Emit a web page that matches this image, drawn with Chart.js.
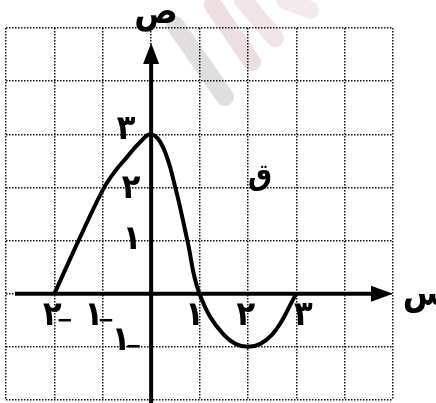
<!DOCTYPE html>
<html>
<head>
<meta charset="utf-8">
<script src="https://cdn.jsdelivr.net/npm/chart.js@4"></script>
<style>
  html, body { margin: 0; padding: 0; background: #fff; }
  #wrap { width: 436px; height: 403px; }
</style>
</head>
<body>
<div id="wrap"><canvas id="graph"></canvas></div>
<script>
// curve q(x) read at a handful of x positions
const xs = [-2, -1.5, -1, -0.75, -0.5, -0.25, 0, 0.25, 0.5, 0.75, 1, 1.5, 2, 2.5, 3];
const ys = [0, 1, 1.95, 2.3, 2.57, 2.83, 3, 2.75, 2, 1, 0, -0.77, -1, -0.77, 0];

// tick labels (Arabic-Indic digits), sign kept apart so it can sit low
const xTickVals = [-2, -1, 1, 2, 3];
const xTickText = ['٢', '١', '١', '٢', '٣'];
const xTickSign = ['−', '−', '', '', ''];
const yTickVals = [-1, 1, 2, 3];
const yTickText = ['١', '١', '٢', '٣'];
const yTickSign = ['−', '', '', ''];

const points = xs.map((x, i) => ({ x: x, y: ys[i] }));
const arabicFont = '"DejaVu Sans Condensed", "DejaVu Sans", sans-serif';

// faint stamp strokes behind the grid
const stampPlugin = {
  id: 'stamp',
  beforeDraw(chart) {
    const ctx = chart.ctx;
    ctx.save();
    ctx.lineCap = 'round';
    ctx.lineWidth = 18;
    const strokes = [
      [175, 25, 225, 97, 'rgba(170,160,162,0.35)'],
      [213, 5, 252, 62, 'rgba(200,160,170,0.35)'],
      [243, 0, 275, 38, 'rgba(205,165,175,0.3)'],
      [285, 0, 310, 10, 'rgba(210,170,180,0.25)']
    ];
    strokes.forEach(s => {
      ctx.strokeStyle = s[4];
      ctx.beginPath();
      ctx.moveTo(s[0], s[1]);
      ctx.lineTo(s[2], s[3]);
      ctx.stroke();
    });
    ctx.restore();
  }
};

function drawTick(ctx, digit, sign, cx, cy) {
  ctx.font = 'bold 34px ' + arabicFont;
  ctx.textAlign = 'center';
  ctx.fillText(digit, cx, cy);
  if (sign) {
    ctx.font = 'bold 22px ' + arabicFont;
    ctx.textAlign = 'left';
    ctx.fillText(sign, cx + 4, cy + 6);
  }
}

// axes with arrows + labels
const axesPlugin = {
  id: 'axesArrows',
  afterDatasetsDraw(chart) {
    const ctx = chart.ctx;
    const sx = chart.scales.x, sy = chart.scales.y;
    const x0 = sx.getPixelForValue(0), y0 = sy.getPixelForValue(0);
    const area = chart.chartArea;
    ctx.save();
    ctx.strokeStyle = '#000';
    ctx.fillStyle = '#000';
    ctx.lineWidth = 4;

    // y axis
    ctx.beginPath();
    ctx.moveTo(x0, chart.height);
    ctx.lineTo(x0, area.top + 30);
    ctx.stroke();
    ctx.beginPath();
    ctx.moveTo(x0, area.top + 15);
    ctx.lineTo(x0 - 8, area.top + 36);
    ctx.lineTo(x0 + 8, area.top + 36);
    ctx.closePath();
    ctx.fill();

    // x axis
    ctx.beginPath();
    ctx.moveTo(area.left + 9, y0);
    ctx.lineTo(area.right - 12, y0);
    ctx.stroke();
    ctx.beginPath();
    ctx.moveTo(area.right, y0);
    ctx.lineTo(area.right - 22, y0 - 8);
    ctx.lineTo(area.right - 22, y0 + 8);
    ctx.closePath();
    ctx.fill();

    ctx.textBaseline = 'middle';
    ctx.direction = 'ltr';

    const xOffsets = [-2, -9, -5, -2, 7];
    xTickVals.forEach((v, i) => {
      drawTick(ctx, xTickText[i], xTickSign[i], sx.getPixelForValue(v) + xOffsets[i], y0 + 22);
    });
    const yOffsets = [[-30, -6], [-19, 0], [-20, 2], [-25, -4]];
    yTickVals.forEach((v, i) => {
      drawTick(ctx, yTickText[i], yTickSign[i], x0 + yOffsets[i][0], sy.getPixelForValue(v) + yOffsets[i][1]);
    });

    // axis names and curve name
    ctx.textAlign = 'center';
    ctx.font = 'bold 36px ' + arabicFont;
    ctx.fillText('ص', x0 + 5, 14);
    ctx.fillText('س', area.right + 32, y0 + 2);
    ctx.font = 'bold 30px ' + arabicFont;
    ctx.fillText('ق', sx.getPixelForValue(2.25), sy.getPixelForValue(2.2));
    ctx.restore();
  }
};

const gridStyle = {
  color: '#111',
  lineWidth: 1.5,
  drawTicks: false
};

new Chart(document.getElementById('graph'), {
  type: 'scatter',
  data: {
    datasets: [{
      data: points,
      showLine: true,
      borderColor: '#000',
      borderWidth: 4,
      pointRadius: 0,
      tension: 0.4,
      fill: false
    }]
  },
  options: {
    responsive: true,
    maintainAspectRatio: false,
    animation: false,
    layout: { padding: { left: 6, right: 43, top: 28, bottom: 3 } },
    plugins: { legend: { display: false }, tooltip: { enabled: false } },
    scales: {
      x: {
        type: 'linear', min: -3, max: 5,
        ticks: { display: false, stepSize: 1 },
        grid: gridStyle,
        border: { display: false, dash: [1.5, 1.5] }
      },
      y: {
        type: 'linear', min: -2, max: 5,
        ticks: { display: false, stepSize: 1 },
        grid: gridStyle,
        border: { display: false, dash: [1.5, 1.5] }
      }
    }
  },
  plugins: [stampPlugin, axesPlugin]
});
</script>
</body>
</html>
